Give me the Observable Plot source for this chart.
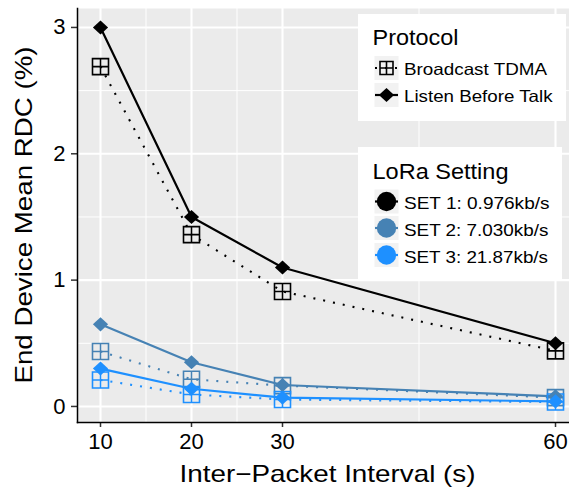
<!DOCTYPE html>
<html><head><meta charset="utf-8">
<script src="https://cdn.jsdelivr.net/npm/d3@7"></script>
<script src="https://cdn.jsdelivr.net/npm/@observablehq/plot@0.6"></script>
<style>html,body{margin:0;padding:0;background:#fff;overflow:hidden}</style>
</head><body><div id="chart"></div>
<script>
const intervals = [10, 20, 30, 60];
const xMinor = [15, 25, 45];
const yTicks = [0, 1, 2, 3];
const yMinor = [0.5, 1.5, 2.5];
const settings = ["SET 1: 0.976kb/s", "SET 2: 7.030kb/s", "SET 3: 21.87kb/s"];
const protocols = ["Broadcast TDMA", "Listen Before Talk"];
const colors = ["#000000", "#4682B4", "#1E90FF"];
const set1TDMA = [2.69, 1.36, 0.91, 0.44];
const set1LBT  = [3.00, 1.50, 1.10, 0.50];
const set2TDMA = [0.435, 0.215, 0.165, 0.07];
const set2LBT  = [0.65, 0.35, 0.17, 0.08];
const set3TDMA = [0.21, 0.095, 0.055, 0.035];
const set3LBT  = [0.30, 0.14, 0.07, 0.04];
const xTitle = "Inter\u2212Packet Interval (s)";
const yTitle = "End Device Mean RDC (%)";

const rows = [];
[[set1TDMA, set1LBT], [set2TDMA, set2LBT], [set3TDMA, set3LBT]].forEach((pair, si) =>
  pair.forEach((vals, pi) => vals.forEach((v, i) =>
    rows.push({x: intervals[i], y: v, set: settings[si], protocol: protocols[pi]}))));
const tdma = rows.filter(d => d.protocol === protocols[0]);
const lbt = rows.filter(d => d.protocol === protocols[1]);

const squarePlus = {draw(ctx, size) {
  const r = Math.sqrt(size / Math.PI);
  ctx.moveTo(-r, -r); ctx.lineTo(r, -r); ctx.lineTo(r, r); ctx.lineTo(-r, r); ctx.closePath();
  ctx.moveTo(-r, 0); ctx.lineTo(r, 0); ctx.moveTo(0, -r); ctx.lineTo(0, r);
}};
const diamond = {draw(ctx, size) {
  const r = Math.sqrt(size / Math.PI), h = r * 0.93;
  ctx.moveTo(0, -h); ctx.lineTo(r, 0); ctx.lineTo(0, h); ctx.lineTo(-r, 0); ctx.closePath();
}};

const font = "'Liberation Sans', Arial, Helvetica, sans-serif";
const plot = Plot.plot({
  width: 569, height: 491,
  marginLeft: 77, marginRight: 0, marginTop: 8, marginBottom: 69,
  style: {fontFamily: font, background: "white", color: "black", overflow: "hidden"},
  x: {domain: [7.5, 62.5], range: [77.25, 577.75]},
  y: {domain: [-0.127, 3.15]},
  color: {domain: settings, range: colors},
  marks: [
    Plot.frame({fill: "#EBEBEB", stroke: null}),
    Plot.ruleY(yMinor, {stroke: "white", strokeWidth: 1}),
    Plot.ruleX(xMinor, {stroke: "white", strokeWidth: 1}),
    Plot.ruleY(yTicks, {stroke: "white", strokeWidth: 2.1}),
    Plot.ruleX(intervals, {stroke: "white", strokeWidth: 2.1}),
    Plot.line(tdma, {x: "x", y: "y", z: "set", stroke: "set", strokeWidth: 2.1, strokeDasharray: "2,8", strokeLinecap: "butt"}),
    Plot.line(lbt, {x: "x", y: "y", z: "set", stroke: "set", strokeWidth: 2.2}),
    Plot.dot(tdma, {x: "x", y: "y", stroke: "set", fill: "none", r: 8, strokeWidth: 1.6, symbol: squarePlus}),
    Plot.dot(lbt, {x: "x", y: "y", fill: "set", r: 7.6, symbol: diamond}),
    Plot.axisX({ticks: intervals, tickSize: 5, tickPadding: 6, fontSize: 22, label: null, stroke: "#333", strokeWidth: 1.5, fill: "black", tickFormat: d => String(d)}),
    Plot.axisY({ticks: yTicks, tickSize: 6, tickPadding: 6, fontSize: 22, label: null, stroke: "#333", strokeWidth: 1.5, fill: "black", tickFormat: d => String(d)}),
    Plot.frame({anchor: "left", stroke: "black", strokeWidth: 1.5}),
    Plot.frame({anchor: "bottom", stroke: "black", strokeWidth: 1.5})
  ]
});
document.getElementById("chart").appendChild(plot);

// titles and legend
const svg = d3.select(plot);
const g = svg.append("g").attr("font-family", font).attr("fill", "black").attr("text-anchor", "start");
g.append("text").attr("x", 327.5).attr("y", 481.5).attr("text-anchor", "middle")
  .attr("font-size", 24).attr("textLength", 296).attr("lengthAdjust", "spacingAndGlyphs").text(xTitle);
g.append("text").attr("transform", "translate(32,215) rotate(-90)").attr("text-anchor", "middle")
  .attr("font-size", 24).attr("textLength", 337).attr("lengthAdjust", "spacingAndGlyphs").text(yTitle);

function legendBox(x, y, w, h) {
  g.append("rect").attr("x", x).attr("y", y).attr("width", w).attr("height", h).attr("fill", "white");
}
function keyBg(cy) {
  g.append("rect").attr("x", 374.5).attr("y", cy - 12).attr("width", 24).attr("height", 24).attr("fill", "#F2F2F2");
}
function label(txt, cy, len) {
  g.append("text").attr("x", 404).attr("y", cy).attr("font-size", 16.5).attr("text-anchor", "start")
    .attr("textLength", len).attr("lengthAdjust", "spacingAndGlyphs").text(txt);
}
// Protocol legend
legendBox(358, 14, 208, 107);
g.append("text").attr("x", 372.5).attr("y", 45).attr("font-size", 22).attr("text-anchor", "start")
  .attr("textLength", 86).attr("lengthAdjust", "spacingAndGlyphs").text("Protocol");
const pKeys = [68, 95];
keyBg(pKeys[0]); keyBg(pKeys[1]);
g.append("line").attr("x1", 375).attr("x2", 398).attr("y1", pKeys[0]).attr("y2", pKeys[0])
  .attr("stroke", "black").attr("stroke-width", 2).attr("stroke-dasharray", "2,8");
g.append("path").attr("transform", `translate(386.5,${pKeys[0]})`)
  .attr("d", d3.symbol(squarePlus, Math.PI * 6.5 * 6.5)()).attr("fill", "none").attr("stroke", "black").attr("stroke-width", 1.6);
g.append("line").attr("x1", 375).attr("x2", 398).attr("y1", pKeys[1]).attr("y2", pKeys[1])
  .attr("stroke", "black").attr("stroke-width", 2.2);
g.append("path").attr("transform", `translate(386.5,${pKeys[1]})`)
  .attr("d", d3.symbol(diamond, Math.PI * 7.6 * 7.6)()).attr("fill", "black");
label(protocols[0], 75, 143);
label(protocols[1], 102, 148.5);

// LoRa legend
legendBox(358, 147, 204, 134);
g.append("text").attr("x", 372.5).attr("y", 178.5).attr("font-size", 22).attr("text-anchor", "start")
  .attr("textLength", 136).attr("lengthAdjust", "spacingAndGlyphs").text("LoRa Setting");
const lKeys = [201.5, 228, 255];
const lBase = [208.5, 236, 263];
const lLens = [145.5, 144.5, 144];
settings.forEach((s, i) => {
  keyBg(lKeys[i]);
  g.append("line").attr("x1", 375).attr("x2", 398).attr("y1", lKeys[i]).attr("y2", lKeys[i])
    .attr("stroke", colors[i]).attr("stroke-width", 2.2);
  g.append("circle").attr("cx", 386.5).attr("cy", lKeys[i]).attr("r", 9.7).attr("fill", colors[i]);
  label(s, lBase[i], lLens[i]);
});
</script>
</body></html>
